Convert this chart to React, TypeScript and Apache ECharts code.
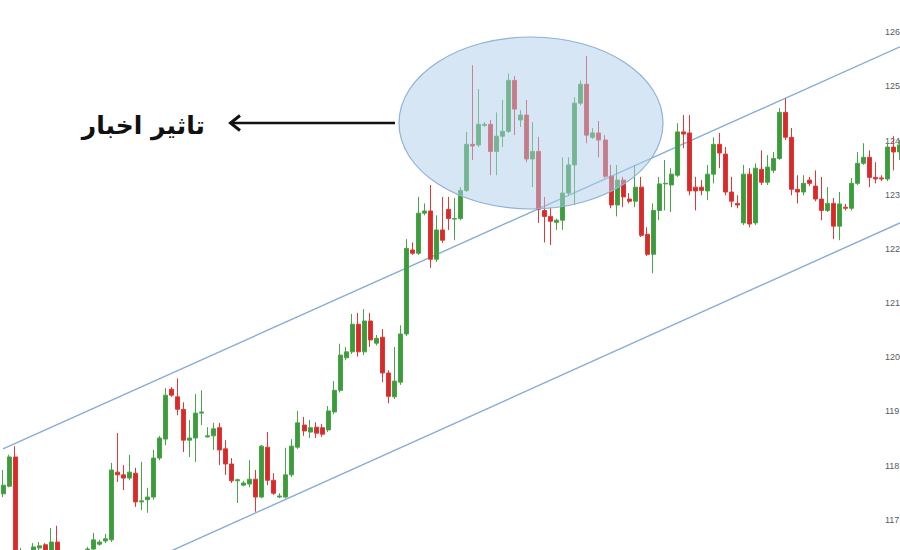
import React, { useEffect, useRef } from "react";
import * as echarts from "echarts";

const openValues = [
  117.48, 117.62, 118.16, 116.33, 116.34, 116.41, 116.48, 116.54, 116.39, 116.59,
  116.30, 116.25, 116.22, 116.28, 116.34, 116.46, 116.55, 116.61, 116.63, 117.88,
  117.83, 117.77, 117.86, 117.33, 117.37, 117.42, 118.14, 118.49, 119.41, 119.27,
  119.04, 118.47, 118.51, 118.97, 118.53, 118.55, 118.70, 118.31, 118.03, 117.72,
  117.64, 117.66, 117.75, 117.42, 118.34, 117.73, 117.42, 117.42, 117.83, 118.34,
  118.75, 118.62, 118.71, 118.70, 118.66, 118.99, 119.39, 119.99, 120.10, 120.61,
  120.10, 120.67, 120.26, 120.37, 119.71, 119.27, 119.54, 120.43, 121.98, 121.92,
  122.66, 122.70, 121.81, 122.35, 122.73, 122.55, 122.56, 123.08, 123.93, 123.92,
  124.28, 124.30, 123.80, 124.08, 124.17, 125.11, 124.38, 124.47, 123.66, 123.80,
  122.71, 122.60, 122.49, 122.53, 123.03, 123.55, 124.69, 125.04, 124.06, 124.14,
  124.01, 123.34, 122.81, 123.27, 122.92, 122.88, 123.14, 122.27, 121.90, 122.71,
  123.20, 123.18, 123.36, 124.16, 124.14, 123.14, 123.14, 123.07, 123.38, 123.93,
  123.75, 123.05, 122.84, 122.48, 123.38, 122.48, 123.47, 123.23, 123.45, 123.67,
  124.52, 124.06, 123.10, 123.05, 123.27, 123.16, 122.92, 122.71, 122.84, 122.42,
  122.77, 122.75, 123.21, 123.58, 123.69, 123.32, 123.31, 123.29, 123.88, 123.79,
];

const closeValues = [
  117.64, 118.16, 116.33, 116.41, 116.29, 116.50, 116.52, 116.41, 116.59, 116.39,
  116.25, 116.22, 116.28, 116.32, 116.46, 116.63, 116.59, 116.65, 117.92, 117.83,
  117.77, 117.88, 117.33, 117.35, 117.42, 118.14, 118.51, 119.30, 119.30, 119.04,
  118.47, 118.51, 118.97, 118.99, 118.55, 118.68, 118.29, 118.03, 117.72, 117.74,
  117.68, 117.75, 117.42, 118.36, 117.73, 117.49, 117.44, 117.83, 118.36, 118.79,
  118.64, 118.70, 118.60, 118.58, 119.01, 119.39, 120.04, 120.10, 120.61, 120.10,
  120.67, 120.32, 120.35, 119.71, 119.28, 119.56, 120.43, 122.01, 121.92, 122.66,
  122.70, 121.81, 122.35, 122.16, 122.56, 122.56, 123.08, 123.93, 123.90, 124.30,
  124.30, 123.80, 124.08, 124.17, 125.11, 124.58, 124.47, 123.66, 123.80, 122.73,
  122.60, 122.51, 122.53, 123.03, 123.55, 124.69, 125.04, 124.10, 124.14, 124.01,
  123.34, 122.81, 123.27, 122.96, 122.88, 123.14, 122.25, 121.90, 122.71, 123.20,
  123.21, 123.38, 124.16, 124.12, 123.07, 123.07, 123.08, 123.38, 123.93, 123.77,
  123.05, 122.88, 122.81, 123.38, 122.46, 123.49, 123.23, 123.51, 123.67, 124.52,
  124.06, 123.10, 123.05, 123.21, 123.21, 122.92, 122.71, 122.84, 122.42, 122.83,
  122.75, 123.21, 123.58, 123.69, 123.32, 123.29, 123.29, 123.88, 123.79, 123.92,
];

const lowValues = [
  117.42, 117.60, 116.26, 116.26, 116.22, 116.35, 116.41, 116.35, 116.33, 116.33,
  116.18, 116.15, 116.15, 116.20, 116.29, 116.43, 116.52, 116.57, 116.59, 117.70,
  117.55, 117.73, 117.24, 117.18, 117.13, 117.37, 118.10, 118.38, 119.27, 118.93,
  118.25, 118.16, 118.07, 118.75, 118.52, 118.29, 118.01, 117.83, 117.68, 117.31,
  117.62, 117.60, 117.15, 117.40, 117.64, 117.46, 117.40, 117.40, 117.79, 118.31,
  118.55, 118.51, 118.51, 118.53, 118.62, 118.95, 119.35, 119.95, 120.06, 120.01,
  120.04, 120.19, 120.22, 119.54, 119.15, 119.23, 119.49, 120.39, 121.89, 121.89,
  122.62, 121.65, 121.76, 122.11, 122.35, 122.16, 122.53, 123.05, 123.64, 123.88,
  124.25, 123.36, 123.36, 123.88, 124.14, 124.10, 124.25, 123.60, 123.14, 122.48,
  122.12, 122.07, 122.35, 122.35, 122.99, 122.81, 124.65, 123.95, 124.03, 123.69,
  123.31, 122.75, 122.60, 122.77, 122.84, 122.77, 122.22, 121.87, 121.55, 122.53,
  122.71, 122.68, 123.33, 123.86, 122.99, 122.71, 122.99, 122.90, 123.21, 123.49,
  122.99, 122.77, 122.75, 122.44, 122.40, 122.44, 123.18, 123.18, 123.40, 123.64,
  124.01, 122.99, 122.84, 122.99, 123.16, 122.88, 122.53, 122.68, 122.18, 122.16,
  122.71, 122.71, 123.18, 123.55, 123.14, 123.21, 123.25, 123.25, 123.45, 123.64,
];

const highValues = [
  117.92, 118.20, 118.36, 116.48, 116.42, 116.57, 116.59, 116.57, 116.85, 116.89,
  116.36, 116.33, 116.35, 116.38, 116.50, 116.76, 116.63, 116.74, 118.05, 118.60,
  118.01, 118.20, 117.96, 118.07, 117.59, 118.29, 118.55, 119.43, 119.45, 119.61,
  119.17, 118.84, 119.32, 119.39, 118.71, 118.79, 118.79, 118.47, 118.14, 117.76,
  117.72, 118.10, 117.92, 118.38, 118.62, 117.86, 117.49, 118.33, 118.49, 119.01,
  118.90, 118.84, 118.80, 118.77, 119.10, 119.56, 120.25, 120.19, 120.80, 120.82,
  120.89, 120.82, 120.41, 120.52, 119.76, 120.19, 120.59, 122.18, 122.12, 122.96,
  122.84, 123.18, 122.62, 122.96, 122.96, 122.94, 123.14, 124.16, 125.39, 124.95,
  124.34, 124.38, 124.52, 124.75, 125.24, 125.19, 124.56, 124.75, 124.34, 124.07,
  122.96, 122.77, 122.56, 123.69, 123.69, 124.80, 125.11, 125.56, 124.23, 124.36,
  124.10, 123.55, 123.55, 123.33, 123.03, 123.55, 123.33, 122.40, 122.84, 123.33,
  123.64, 123.49, 124.32, 124.47, 124.47, 123.33, 123.27, 123.55, 124.06, 124.14,
  123.88, 123.33, 122.99, 123.55, 123.49, 123.58, 123.82, 123.73, 123.79, 124.60,
  124.78, 124.23, 123.36, 123.36, 123.33, 123.45, 123.33, 123.14, 122.94, 123.05,
  122.83, 123.31, 123.79, 123.95, 123.82, 123.60, 123.36, 123.97, 124.08, 124.01,
];

const categories = openValues.map((_, i) => String(i + 1));

// channel lines: price at first and last candle
const upperChannel = [118.31, 125.73];
const lowerChannel = [115.03, 122.48];

const yMin = 116;
const yMax = 127;
const yStep = 1;

const annotationText = "تاثیر اخبار";

export default function App() {
  const ref = useRef<HTMLDivElement>(null);

  useEffect(() => {
    if (!ref.current) return;
    const chart = echarts.init(ref.current, undefined, { renderer: "svg" });
    const ohlc = openValues.map((o, i) => [o, closeValues[i], lowValues[i], highValues[i]]);
    const first = categories[0];
    const last = categories[categories.length - 1];

    chart.setOption({
      animation: false,
      backgroundColor: "#ffffff",
      grid: {
        left: 0,
        top: -22,
        width: 903,
        height: 596,
        containLabel: false,
        outerBoundsMode: "none",
      },
      xAxis: {
        type: "category",
        data: categories,
        boundaryGap: true,
        axisLine: { show: false },
        axisTick: { show: false },
        axisLabel: { show: false },
        splitLine: { show: false },
      },
      yAxis: {
        type: "value",
        position: "right",
        min: yMin,
        max: yMax,
        interval: yStep,
        axisLine: { show: false },
        axisTick: { show: false },
        splitLine: { show: false },
        axisLabel: {
          margin: -18,
          color: "#5a5a5a",
          fontSize: 9,
          fontFamily: "Liberation Sans, Arial, sans-serif",
          showMinLabel: false,
          showMaxLabel: false,
        },
      },
      series: [
        {
          type: "line",
          data: [[first, upperChannel[0]], [last, upperChannel[1]]],
          symbol: "none",
          clip: false,
          lineStyle: { color: "#86acd6", width: 1.4 },
          z: 1,
        },
        {
          type: "line",
          data: [[first, lowerChannel[0]], [last, lowerChannel[1]]],
          symbol: "none",
          clip: false,
          lineStyle: { color: "#86acd6", width: 1.4 },
          z: 1,
        },
        {
          type: "candlestick",
          data: ohlc,
          barWidth: 4.5,
          itemStyle: {
            color: "#3c9c3c",
            color0: "#d92a2a",
            borderColor: "#49a449",
            borderColor0: "#dc3a3a",
            borderWidth: 1,
          },
          z: 2,
        },
      ],
      graphic: [
        {
          type: "ellipse",
          z: 100,
          shape: { cx: 531, cy: 123, rx: 132, ry: 86 },
          style: {
            fill: "rgba(176, 206, 234, 0.5)",
            stroke: "#8fb2d6",
            lineWidth: 1.2,
          },
        },
        {
          type: "line",
          z: 100,
          shape: { x1: 232, y1: 123, x2: 395, y2: 123 },
          style: { stroke: "#111111", lineWidth: 2.5 },
        },
        {
          type: "polyline",
          z: 100,
          shape: { points: [[240, 115.5], [230.5, 123], [240, 130.5]] },
          style: { stroke: "#111111", lineWidth: 3, fill: null },
        },
        {
          type: "text",
          z: 100,
          x: 205,
          y: 125,
          style: {
            text: annotationText,
            fill: "#111111",
            font: "bold 25px 'DejaVu Sans', sans-serif",
            textAlign: "right",
            textVerticalAlign: "middle",
          },
        },
      ],
    });

    return () => chart.dispose();
  }, []);

  return (
    <div
      ref={ref}
      style={{ position: "fixed", left: 0, top: 0, width: 900, height: 550 }}
    />
  );
}
